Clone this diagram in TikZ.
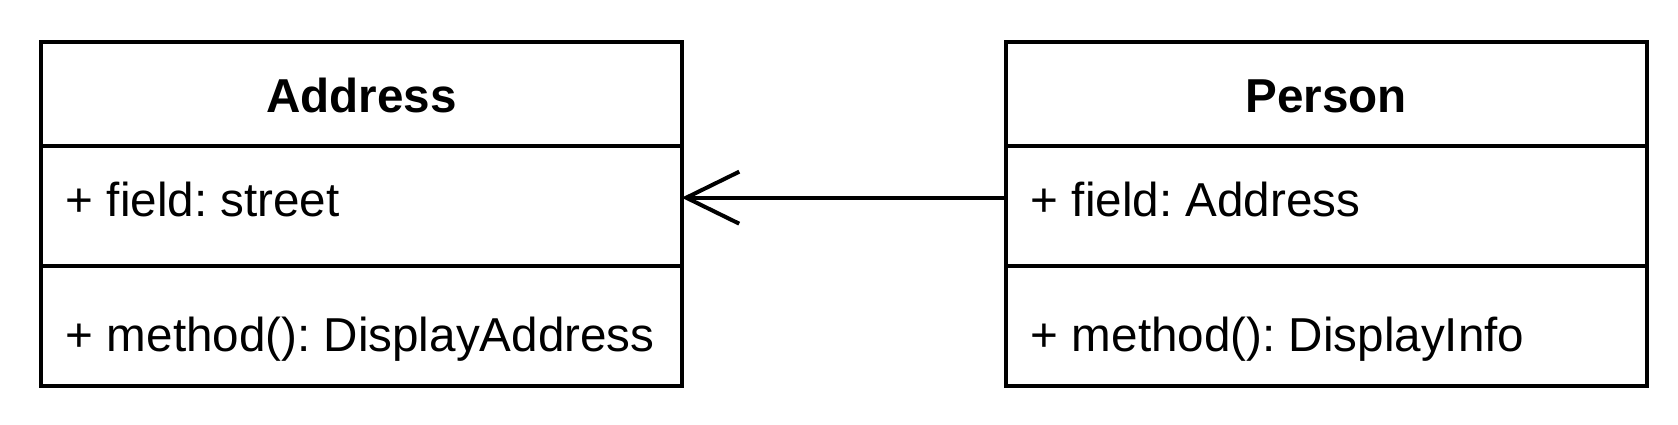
\documentclass[tikz,border=0pt]{standalone}
\usepackage{fontspec}
\setmainfont{Liberation Sans}
\usetikzlibrary{arrows.meta}
\frenchspacing
\begin{document}
\begin{tikzpicture}[x=1pt,y=-1pt,
  classbox/.style={draw=black, line width=4pt, minimum width=640.7pt, minimum height=344.3pt, anchor=north west, inner sep=0pt, outer sep=0pt},
  divider/.style={line width=4pt},
  title/.style={font=\fontsize{47.6}{57}\selectfont\bfseries, anchor=base, inner sep=0pt},
  member/.style={font=\fontsize{47.6}{57}\selectfont, anchor=base west, inner sep=0pt},
  assoc/.style={line width=4pt, -{Straight Barb[length=53pt, width=52pt, line width=4pt]}}
]
\useasboundingbox (0,0) rectangle (1678,425);
% Address class
\node[classbox] (addr) at (41,41.7) {};
\draw[divider] (41,145.7) -- (681.7,145.7);
\draw[divider] (41,265.7) -- (681.7,265.7);
\node[title] (addrT) at (361.3,113) {Address};
\node[member] (addrF) at (65.7,216) {+ field: street};
\node[member] (addrM) at (65.7,351.7) {+ method(): DisplayAddress};
% Person class
\node[classbox] (pers) at (1006,41.7) {};
\draw[divider] (1006,145.7) -- (1646.7,145.7);
\draw[divider] (1006,265.7) -- (1646.7,265.7);
\node[title] (persT) at (1326.3,113) {Person};
\node[member] (persF) at (1030.7,216) {+ field: Address};
\node[member] (persM) at (1030.7,351.7) {+ method(): DisplayInfo};
% association
\coordinate (pa) at (pers.west |- 0,197.7);
\coordinate (aa) at (addr.east |- 0,197.7);
\draw[assoc] (pa) -- (aa);
\end{tikzpicture}
\end{document}
